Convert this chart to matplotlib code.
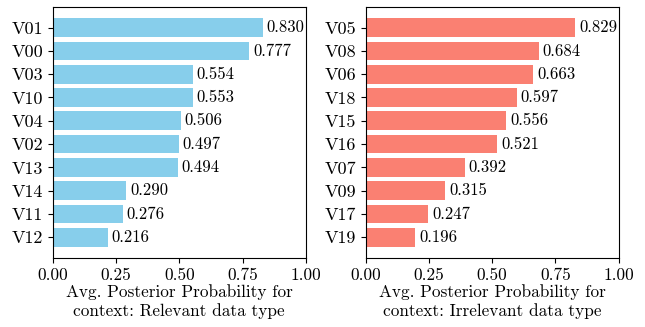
import matplotlib
matplotlib.use("Agg")
import matplotlib.pyplot as plt

plt.rcParams['font.family'] = 'serif'
plt.rcParams['font.serif'] = ['cmr10', 'DejaVu Serif']
plt.rcParams['mathtext.fontset'] = 'cm'
plt.rcParams['axes.formatter.use_mathtext'] = True

rel_labels = ["V01", "V00", "V03", "V10", "V04", "V02", "V13", "V14", "V11", "V12"]
rel_values = [0.830, 0.777, 0.554, 0.553, 0.506, 0.497, 0.494, 0.290, 0.276, 0.216]
irr_labels = ["V05", "V08", "V06", "V18", "V15", "V16", "V07", "V09", "V17", "V19"]
irr_values = [0.829, 0.684, 0.663, 0.597, 0.556, 0.521, 0.392, 0.315, 0.247, 0.196]
xticks = [0.0, 0.25, 0.5, 0.75, 1.0]

fig = plt.figure(figsize=(6.45, 3.27), dpi=100)
ax1 = fig.add_axes([0.082, 0.211, 0.392, 0.768])
ax2 = fig.add_axes([0.567, 0.211, 0.392, 0.768])

def draw(ax, labels, values, color, xlabel):
    y = list(range(len(labels)))[::-1]
    ax.barh(y, values, color=color, height=0.8)
    for yi, v in zip(y, values):
        ax.text(v + 0.015, yi, f"{v:.3f}", va='center', ha='left', fontsize=12)
    ax.set_yticks(y)
    ax.set_yticklabels(labels, fontsize=13)
    ax.set_xlim(0, 1.0)
    ax.set_xticks(xticks)
    ax.set_xticklabels([f"{t:.2f}" for t in xticks], fontsize=12.5)
    ax.set_xlabel(xlabel, fontsize=12.4, linespacing=1.2)
    ax.xaxis.labelpad = 1

draw(ax1, rel_labels, rel_values, '#87CEEB', "Avg. Posterior Probability for\ncontext: Relevant data type")
draw(ax2, irr_labels, irr_values, '#FA8072', "Avg. Posterior Probability for\ncontext: Irrelevant data type")

fig.savefig("out.png", dpi=100)
